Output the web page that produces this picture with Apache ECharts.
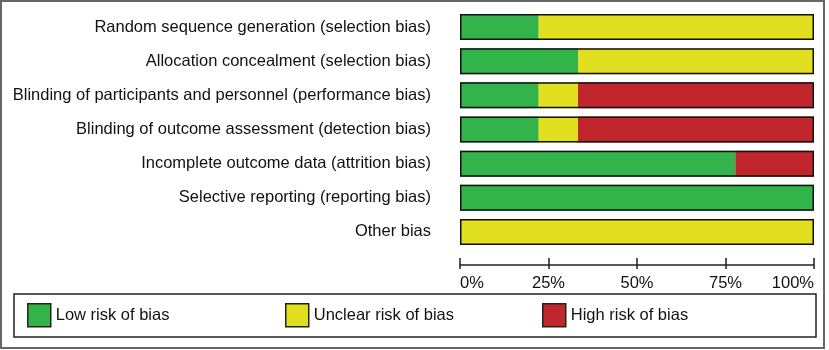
<!DOCTYPE html>
<html>
<head>
<meta charset="utf-8">
<script src="https://cdn.jsdelivr.net/npm/echarts@6/dist/echarts.min.js"></script>
<style>
  html, body { margin: 0; padding: 0; background: #fff; }
  #chart { width: 829px; height: 350px; }
</style>
</head>
<body>
<div id="chart"></div>
<script>
// risk of bias domains, top to bottom
const domains = [
  'Random sequence generation (selection bias)',
  'Allocation concealment (selection bias)',
  'Blinding of participants and personnel (performance bias)',
  'Blinding of outcome assessment (detection bias)',
  'Incomplete outcome data (attrition bias)',
  'Selective reporting (reporting bias)',
  'Other bias'
];
// number of studies per judgement (9 studies)
const lowRisk = [2, 3, 2, 2, 7, 9, 0];
const unclearRisk = [7, 6, 1, 1, 0, 0, 9];
const highRisk = [0, 0, 6, 6, 2, 0, 0];
const tickValues = [0, 25, 50, 75, 100];

const totals = domains.map((d, i) => lowRisk[i] + unclearRisk[i] + highRisk[i]);
const pct = arr => arr.map((v, i) => v / totals[i] * 100);

const FONT = 'Liberation Sans, Arial, sans-serif';
const COLORS = { low: '#33b44a', unclear: '#e1df1f', high: '#c1262c' };

const myChart = echarts.init(document.getElementById('chart'));

const seg = (name, data, color) => ({
  name: name,
  type: 'bar',
  stack: 'rob',
  barWidth: 26,
  data: data,
  itemStyle: { color: color },
  emphasis: { disabled: true },
  silent: true
});

const legendItem = (name, left) => ({
  left: left,
  top: 303,
  data: [name],
  itemWidth: 23,
  itemHeight: 23,
  itemGap: 0,
  padding: 0,
  icon: 'rect',
  itemStyle: { borderColor: '#222', borderWidth: 1.5 },
  textStyle: { fontFamily: FONT, fontSize: 16.5, color: '#111', padding: [0, 0, 0, 0] },
  selectedMode: false
});

myChart.setOption({
  animation: false,
  grid: {
    left: 460,
    right: 15,
    top: 10,
    height: 239
  },
  xAxis: [{
    type: 'value',
    min: 0,
    max: 100,
    interval: 25,
    offset: 16,
    splitLine: { show: false },
    axisLine: { show: true, lineStyle: { color: '#222', width: 1.5 } },
    axisTick: { show: true, inside: true, length: 7, lineStyle: { color: '#222', width: 1.5 } },
    axisLabel: {
      fontFamily: FONT,
      fontSize: 16.5,
      color: '#111',
      margin: 10,
      alignMinLabel: 'left',
      alignMaxLabel: 'right',
      customValues: tickValues,
      formatter: v => v + '%'
    }
  }, {
    type: 'value',
    position: 'bottom',
    min: 0,
    max: 100,
    interval: 25,
    offset: 16,
    splitLine: { show: false },
    axisLine: { show: false },
    axisTick: { show: true, length: 4, lineStyle: { color: '#222', width: 1.5 } },
    axisLabel: { show: false }
  }],
  yAxis: {
    type: 'category',
    inverse: true,
    data: domains,
    axisLine: { show: false },
    axisTick: { show: false },
    axisLabel: {
      fontFamily: FONT,
      fontSize: 16.5,
      color: '#111',
      margin: 29
    }
  },
  legend: [
    legendItem('Low risk of bias', 27),
    legendItem('Unclear risk of bias', 285),
    legendItem('High risk of bias', 542)
  ],
  graphic: [{
    type: 'rect',
    shape: { x: 1, y: 1, width: 823, height: 347 },
    style: { fill: 'none', stroke: '#666', lineWidth: 2 },
    silent: true
  }, {
    type: 'rect',
    shape: { x: 14, y: 294, width: 802, height: 43 },
    style: { fill: 'none', stroke: '#222', lineWidth: 1.5 },
    silent: true
  }],
  series: [
    seg('Low risk of bias', pct(lowRisk), COLORS.low),
    seg('Unclear risk of bias', pct(unclearRisk), COLORS.unclear),
    seg('High risk of bias', pct(highRisk), COLORS.high),
    {
      // outline around each whole bar
      name: 'frame',
      type: 'bar',
      barWidth: 26,
      barGap: '-100%',
      z: 3,
      data: totals.map(t => t / t * 100),
      itemStyle: { color: 'rgba(0,0,0,0)', borderColor: '#111', borderWidth: 1.5 },
      emphasis: { disabled: true },
      silent: true
    }
  ]
});

myChart.resize();
</script>
</body>
</html>
